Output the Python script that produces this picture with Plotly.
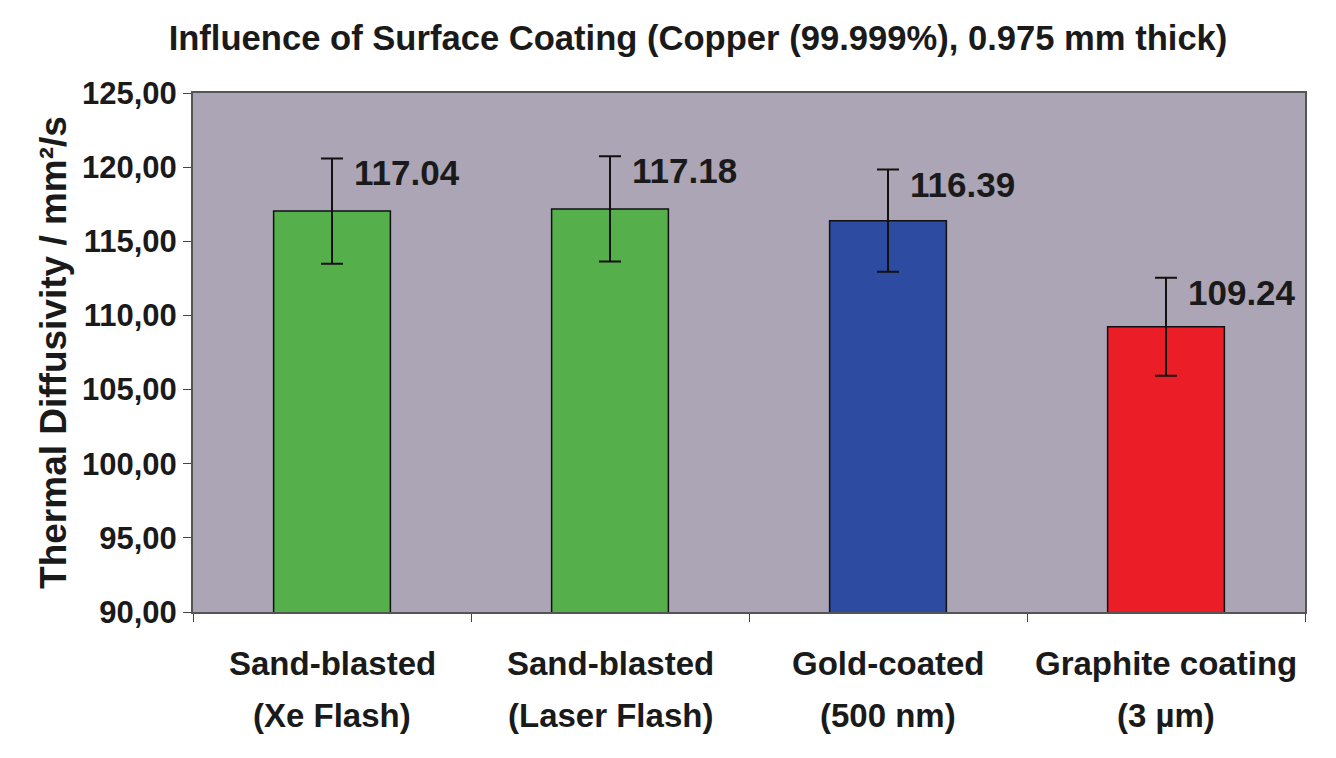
import plotly.graph_objects as go

categories = ["Sand-blasted (Xe Flash)", "Sand-blasted (Laser Flash)", "Gold-coated (500 nm)", "Graphite coating (3 µm)"]
label_line1 = ["Sand-blasted", "Sand-blasted", "Gold-coated", "Graphite coating"]
label_line2 = ["(Xe Flash)", "(Laser Flash)", "(500 nm)", "(3 µm)"]
values = [117.04, 117.18, 116.39, 109.24]
errors = [3.55, 3.55, 3.45, 3.3]
value_text = ["117.04", "117.18", "116.39", "109.24"]
bar_colors = ["#55AF4B", "#55AF4B", "#2D4BA0", "#EB1E28"]
y_ticks = [90, 95, 100, 105, 110, 115, 120, 125]

FONT = "Liberation Sans, Arial, sans-serif"
W, H = 1328, 750  # page body has an 8px margin

fig = go.Figure()
fig.add_trace(go.Bar(
    x=categories, y=values,
    marker=dict(color=bar_colors, line=dict(color="#111111", width=1.5)),
    error_y=dict(type="data", array=errors, visible=True, color="#111111", thickness=2, width=11),
    width=0.42,
    hoverinfo="skip",
))

annotations = []
for c, v, e, t in zip(categories, values, errors, value_text):
    annotations.append(dict(x=c, y=v + e, xref="x", yref="y", text="<b>%s</b>" % t,
                            showarrow=False, xanchor="left", yanchor="top", xshift=20, yshift=7,
                            font=dict(family=FONT, size=35, color="#1a1a1a")))
for c, l1, l2 in zip(categories, label_line1, label_line2):
    annotations.append(dict(x=c, y=-0.1, xref="x", yref="paper", text="<b>%s</b>" % l1,
                            showarrow=False, xanchor="center", yanchor="middle",
                            font=dict(family=FONT, size=33, color="#1a1a1a")))
    annotations.append(dict(x=c, y=-0.1985, xref="x", yref="paper", text="<b>%s</b>" % l2,
                            showarrow=False, xanchor="center", yanchor="middle",
                            font=dict(family=FONT, size=33, color="#1a1a1a")))

fig.update_layout(
    width=W, height=H,
    margin=dict(l=185, r=31, t=85, b=146),
    paper_bgcolor="white",
    plot_bgcolor="#ABA5B5",
    showlegend=False,
    separators=",.",
    title=dict(text="<b>Influence of Surface Coating (Copper (99.999%), 0.975 mm thick)</b>",
               x=690 / W, xanchor="center", y=1 - 30 / H, yanchor="middle",
               font=dict(family=FONT, size=34.6, color="#1a1a1a")),
    annotations=annotations,
)
fig.update_xaxes(
    showticklabels=False, ticks="outside", tickson="boundaries", ticklen=8,
    tickcolor="#444444", showline=True, linecolor="#555555", linewidth=2, mirror=True,
    showgrid=False,
)
fig.update_yaxes(
    range=[90, 125], tickvals=y_ticks, tickformat=".2f", ticks="outside", ticklen=8,
    tickcolor="#444444", showline=True, linecolor="#555555", linewidth=2, mirror=True,
    showgrid=False, zeroline=False,
    tickfont=dict(family=FONT, size=31, color="#1a1a1a", weight="bold"),
    title=dict(text="<b>Thermal Diffusivity / mm²/s</b>", standoff=4,
               font=dict(family=FONT, size=37, color="#1a1a1a")),
)

fig.write_html("out.html")
